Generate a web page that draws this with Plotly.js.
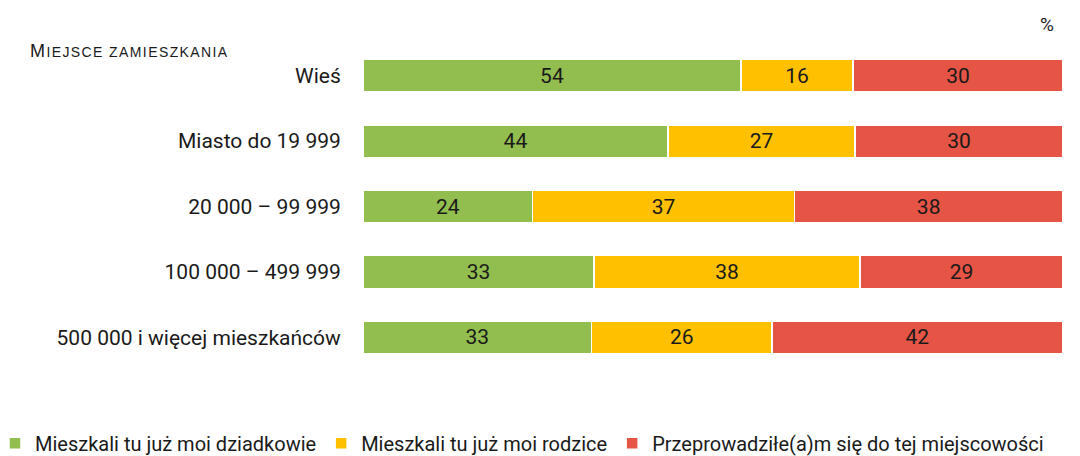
<!DOCTYPE html>
<html>
<head>
<meta charset="utf-8">
<script src="https://cdn.plot.ly/plotly-3.0.1.min.js"></script>
<style>html,body{margin:0;padding:0;background:#fff;}#chart{width:1080px;height:456px;}</style>
</head>
<body>
<div id="chart"></div>
<script>
const categories = ["Wieś", "Miasto do 19 999", "20 000 – 99 999", "100 000 – 499 999", "500 000 i więcej mieszkańców"];
const seriesNames = ["Mieszkali tu już moi dziadkowie", "Mieszkali tu już moi rodzice", "Przeprowadziłe(a)m się do tej miejscowości"];
const grandparents = [54, 44, 24, 33, 33];
const parents = [16, 27, 37, 38, 26];
const movedIn = [30, 30, 38, 29, 42];
const colors = ["#92BE4F", "#FFC000", "#E55444"];

const values = [grandparents, parents, movedIn];
const data = values.map((v, i) => ({
  type: "bar",
  orientation: "h",
  name: seriesNames[i],
  y: categories,
  x: v,
  text: v.map(String),
  textposition: "inside",
  insidetextanchor: "middle",
  textangle: 0,
  textfont: {family: "Roboto", size: 21, color: "#1a1a1a"},
  marker: {color: colors[i], line: {color: "#ffffff", width: 1.5}},
  hoverinfo: "skip"
}));

const layout = {
  width: 1080, height: 456,
  margin: {l: 363, r: 17, t: 43, b: 86, autoexpand: false},
  barmode: "stack",
  barnorm: "percent",
  bargap: 0.5,
  paper_bgcolor: "#fff", plot_bgcolor: "#fff",
  font: {family: "Roboto", size: 21, color: "#1a1a1a"},
  xaxis: {range: [0, 100], visible: false, fixedrange: true},
  yaxis: {autorange: "reversed", showgrid: false, zeroline: false, showline: false, ticks: "outside", ticklen: 17, tickcolor: "rgba(0,0,0,0)", tickfont: {family: "Roboto", size: 21, color: "#1a1a1a"}},
  uniformtext: {mode: "show", minsize: 10},
  showlegend: true,
  legend: {orientation: "h", xref: "paper", yref: "paper", x: (-5-363)/700, y: -(443-370)/326, xanchor: "left", yanchor: "middle",
    font: {family: "Roboto", size: 20, color: "#1a1a1a"}, itemwidth: 30, traceorder: "normal", tracegroupgap: 0},
  annotations: [
    {text: "M<span style=\"font-size:14px\">IEJSCE ZAMIESZKANIA</span>", xref: "paper", yref: "paper", x: (42-363)/700, y: 1 - (51-43)/326, xanchor: "left", yanchor: "middle",
     showarrow: false, font: {family: "Liberation Sans", size: 18, color: "#1a1a1a"}},
    {text: "%", xref: "paper", yref: "paper", x: (1047-363)/700, y: 1.058, xanchor: "center", yanchor: "middle",
     showarrow: false, font: {family: "Roboto", size: 19, color: "#1a1a1a"}}
  ]
};
Plotly.newPlot("chart", data, layout, {displayModeBar: false, staticPlot: true}).then(gd => {
  // widen the small-caps heading like the reference (letter spacing)
  document.querySelectorAll(".annotation-text").forEach(t => {
    if (t.textContent.indexOf("ZAMIESZKANIA") >= 0) t.setAttribute("letter-spacing", "1.4px");
  });
});
</script>
</body>
</html>
